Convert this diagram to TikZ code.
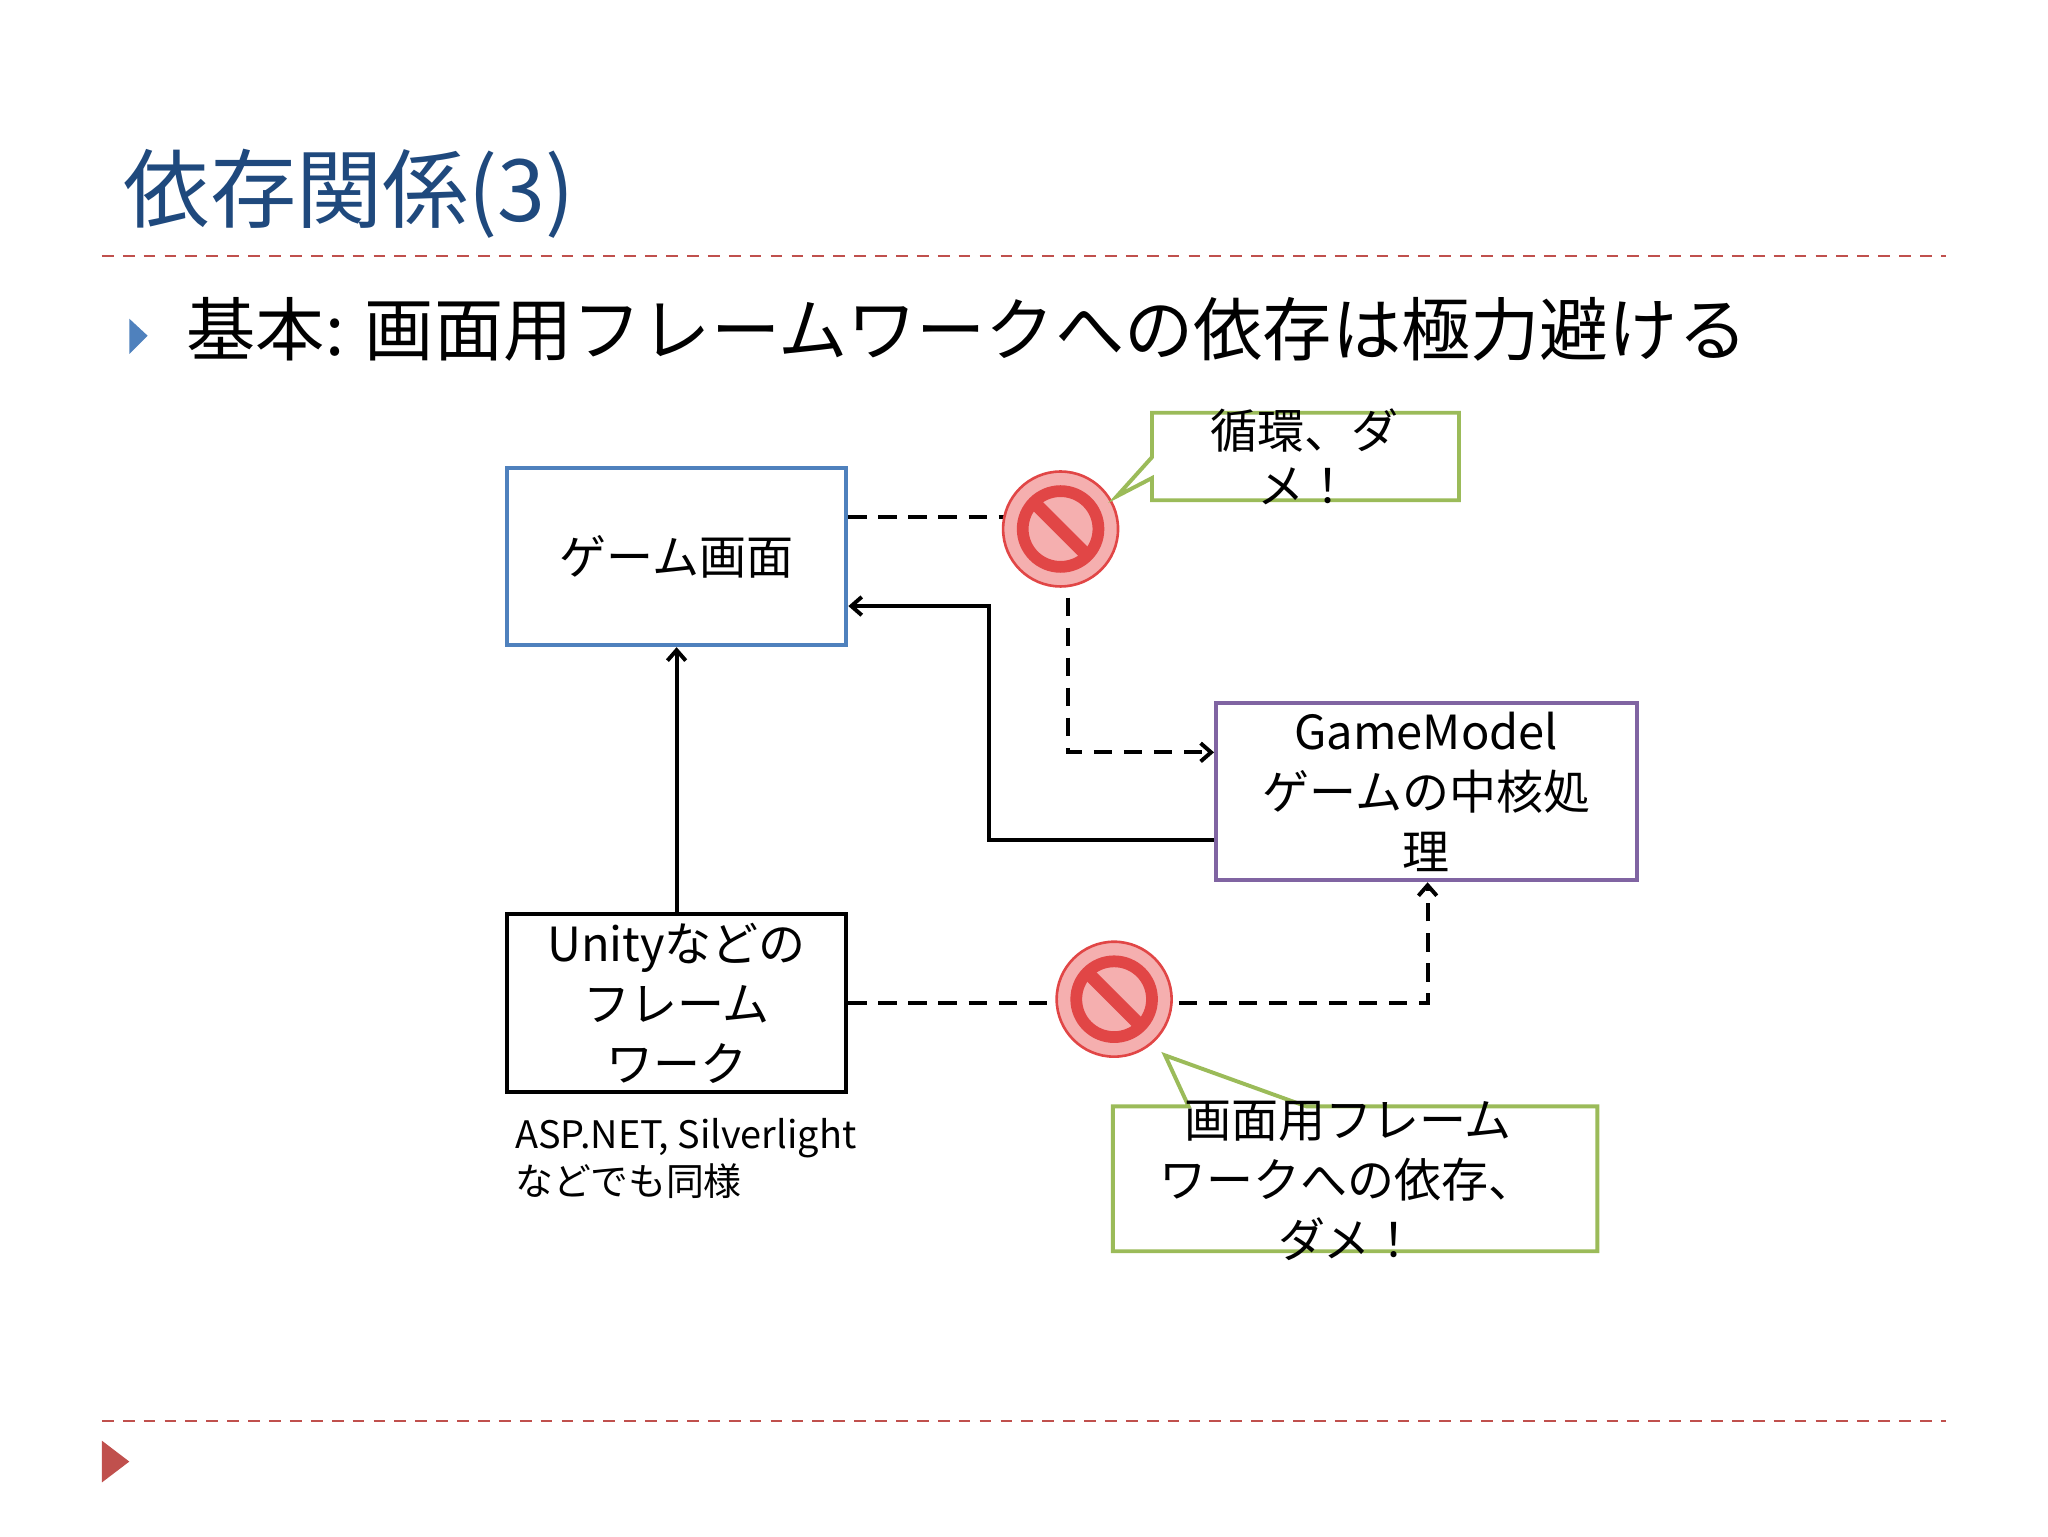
\documentclass[tikz,border=0pt]{standalone}
\usepackage{fontspec}
\setmainfont{Noto Sans CJK JP}
\usetikzlibrary{arrows.meta}
\definecolor{ttl}{RGB}{31,73,125}
\definecolor{rl}{RGB}{192,80,77}
\definecolor{bbox}{RGB}{79,129,189}
\definecolor{pbox}{RGB}{128,100,162}
\definecolor{gbox}{RGB}{155,187,89}
\definecolor{nofill}{RGB}{245,175,175}
\definecolor{noline}{RGB}{225,70,70}
\begin{document}
\begin{tikzpicture}[x=1pt,y=-1pt,line width=3pt,
  box/.style={draw,fill=white,minimum width=260pt,minimum height=136pt,align=center,font=\fontsize{36}{46}\selectfont,inner sep=0pt},
  call/.style={draw=gbox,fill=white,line width=3pt},
  con/.style={line width=3pt,->,>={Straight Barb[length=8pt,width=14pt]}},
  dsh/.style={con,dash pattern=on 14pt off 9pt}]
\useasboundingbox (0,0) rectangle (1568,1176);
% title
\node[anchor=west,text=ttl,font=\fontsize{66}{70}\selectfont] (title) at (90,148) {依存関係(3)};
\draw[rl,line width=2pt,dash pattern=on 9pt off 7pt] (78,196) -- (1490,196);
\draw[rl,line width=2pt,dash pattern=on 9pt off 7pt] (78,1088) -- (1490,1088);
\fill[bbox] (99,244) -- (113,257) -- (99,271) -- cycle;
\fill[rl] (78,1103) -- (99,1119) -- (78,1135) -- cycle;
\node[anchor=west,font=\fontsize{53}{56}\selectfont] (bul) at (138,252) {基本: 画面用フレームワークへの依存は極力避ける};
% boxes
\node[box,draw=bbox] (scr) at (518,426) {ゲーム画面};
\node[box,draw=pbox,minimum width=322pt] (gm) at (1092,606) {GameModel\\ゲームの中核処\\理};
\node[box,draw=black] (fw) at (518,768) {Unityなどの\\フレーム\\ワーク};
\node[anchor=north west,align=left,font=\fontsize{29}{36}\selectfont,inner sep=0pt] (cap) at (393,855) {ASP.NET, Silverlight\\などでも同様};
% connectors
\draw[con] (fw.north) -- (scr.south);
\draw[con] (gm.west |- 0,643) -- (757,643) -- (757,464) -- (scr.east |- 0,464);
\draw[dsh] (scr.east |- 0,396) -- (818,396) -- (818,576) -- (gm.west |- 0,576);
\draw[dsh] (fw.east) -- (1093,768) -- (gm.south -| 1093,0);
% no signs
\foreach \n/\cx/\cy in {na/812/405,nb/853/765}{
  \node[circle,draw=noline,fill=nofill,line width=2pt,minimum size=88pt] (\n) at (\cx,\cy) {};
  \draw[noline,line width=9pt] (\cx,\cy) circle (29pt);
  \draw[noline,line width=10pt] (\cx-21,\cy-21) -- (\cx+21,\cy+21);
}
% callouts
\draw[call] (882,316) -- (1117,316) -- (1117,383) -- (882,383) -- (882,366) -- (855,380) -- (882,350) -- cycle;
\node[align=center,font=\fontsize{36}{42}\selectfont] (c1) at (999,350) {循環、ダ\\メ！};
\draw[call] (852,847) -- (910,847) -- (892,808) -- (1000,847) -- (1223,847) -- (1223,958) -- (852,958) -- cycle;
\node[align=center,font=\fontsize{36}{46}\selectfont] (c2) at (1032,904) {画面用フレーム\\ワークへの依存、\\ダメ！};
\end{tikzpicture}
\end{document}
